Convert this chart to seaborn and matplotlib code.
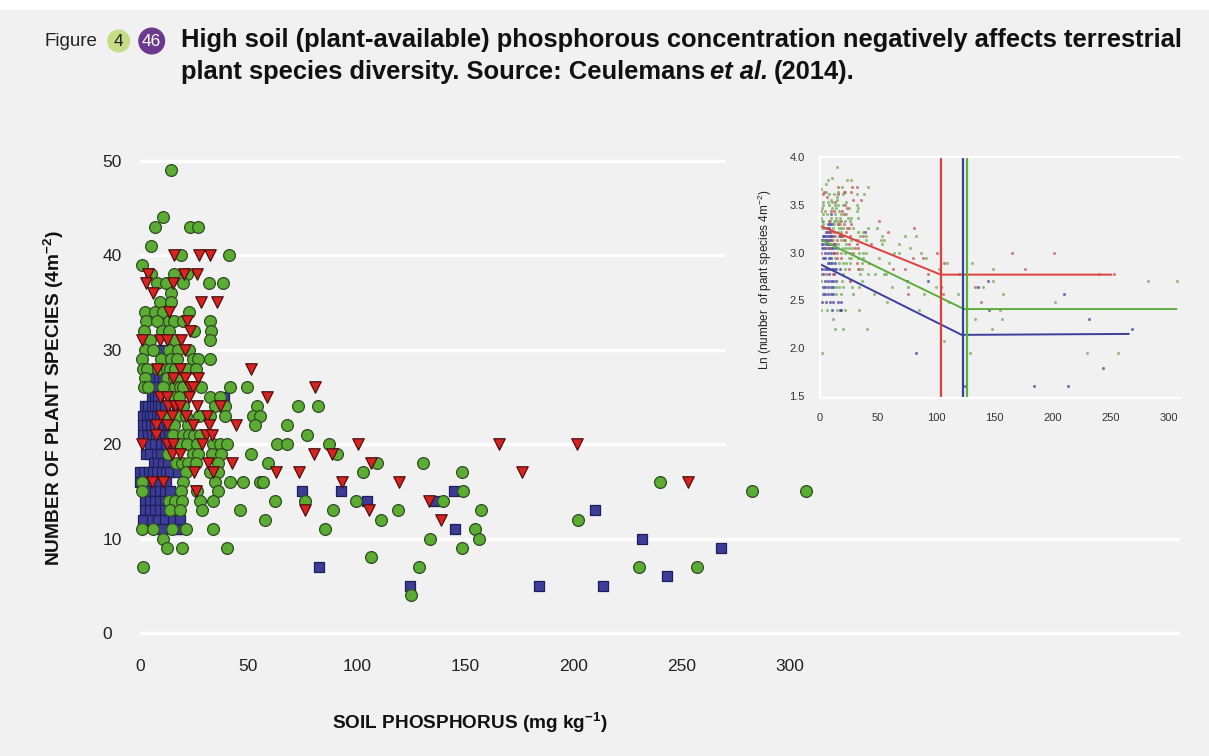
import numpy as np
import pandas as pd
import matplotlib
matplotlib.use("Agg")
import matplotlib.pyplot as plt
from matplotlib.patches import Rectangle, Ellipse
import seaborn as sns

# ---- data: (soil P mg/kg, species per 4 m2) ----
circle_x = [14.3, 10.5, 7, 23, 26.6, 5.1, 18.9, 41, 1, 5.1, 15.7, 21.8,
            8, 11.8, 19.7, 31.7, 38.2, 14.5, 9.4, 14.5, 2.5, 7, 10.5, 22.5,
            2.8, 7.7, 13.2, 15.7, 20, 32.1, 2, 10.2, 13.5, 25, 32.8,
            4.6, 16.2, 32.1, 2.5, 6.2, 13.2, 17.7, 22.5,
            0.9, 9.5, 14.2, 17.2, 24.3, 26.6, 32.3,
            1.5, 3, 8.4, 12.3, 13.8, 16.2, 21.8, 25.7,
            2.3, 12.3, 15.7, 17.2,
            1.8, 3.8, 10.8, 16.2, 18.5, 20, 28, 41.5, 49.2,
            15.4, 18.1, 32.3, 36.9,
            19.9, 34.6, 39.2, 53.8, 73, 82.3,
            11.5, 17.7, 21.3, 27, 32.3, 39.2, 52.3, 55.4,
            15.7, 22.3, 53.3, 67.7,
            15.4, 20, 22.8, 25, 27.5, 77.2,
            18.5, 21.5, 26.1, 33.8, 36.9, 40, 63.4, 67.7, 87.2,
            13, 24.6, 26.9, 33, 37.2, 51.2, 91,
            16.6, 19.4, 22.2, 25.8, 36, 59.2, 109.2, 130.7,
            21.2, 32.3, 36, 102.7, 148.8,
            0.8, 20, 34.6, 41.5, 47.7, 55.4, 56.9, 240.1,
            0.8, 18.9, 26.1, 36.1, 148.9, 282.4, 307.3,
            13.5, 16, 19.5, 27.7, 33.8, 62.3, 76.1, 99.7, 140,
            13.8, 18.5, 28.4, 46.1, 89.2, 119.2, 157.2,
            57.7, 111.2, 202.3,
            0.8, 6.2, 14.6, 21.2, 33.5, 85.2, 154.6,
            10.8, 133.8, 156.4,
            12.6, 19.5, 40.3, 148.5,
            106.6,
            1.5, 128.8, 230.1, 256.9,
            125.2]
circle_y = [49, 44, 43, 43, 43, 41, 40, 40, 39, 38, 38, 38,
            37, 37, 37, 37, 37, 36, 35, 35, 34, 34, 34, 34,
            33, 33, 33, 33, 33, 33, 32, 32, 32, 32, 32,
            31, 31, 31, 30, 30, 30, 30, 30,
            29, 29, 29, 29, 29, 29, 29,
            28, 28, 28, 28, 28, 28, 28, 28,
            27, 27, 27, 27,
            26, 26, 26, 26, 26, 26, 26, 26, 26,
            25, 25, 25, 25,
            24, 24, 24, 24, 24, 24,
            23, 23, 23, 23, 23, 23, 23, 23,
            22, 22, 22, 22,
            21, 21, 21, 21, 21, 21,
            20, 20, 20, 20, 20, 20, 20, 20, 20,
            19, 19, 19, 19, 19, 19, 19,
            18, 18, 18, 18, 18, 18, 18, 18,
            17, 17, 17, 17, 17,
            16, 16, 16, 16, 16, 16, 16, 16,
            15, 15, 15, 15, 15, 15, 15,
            14, 14, 14, 14, 14, 14, 14, 14, 14,
            13, 13, 13, 13, 13, 13, 13,
            12, 12, 12,
            11, 11, 11, 11, 11, 11, 11,
            10, 10, 10,
            9, 9, 9, 9,
            8,
            7, 7, 7, 7,
            4]

tri_x = [15.7, 27.4, 32.2, 3.8, 20.3, 26.3, 2.8, 15.2, 6.2, 28, 35.7,
         13.2, 21.8, 23.2, 0.8, 9.2, 12.3, 18.9, 20.9,
         7.7, 18.5, 51.2, 15.4, 20.8, 26.9, 23.1, 24.6, 80.8,
         9.2, 12.3, 22.8, 58.8, 13, 16.2, 18.5, 26.1, 36.9,
         9.5, 14.6, 21, 31, 7.4, 12.3, 24.6, 32, 44.3,
         7.4, 30.5, 33, 1, 12.3, 15, 28.5, 100.5, 165.7, 201.8,
         14.6, 18.5, 80.4, 88.7, 31.5, 42.3, 106.4,
         25, 33.8, 62.8, 73.4, 176.4, 5.4, 10.8, 93, 119.5, 253,
         25.8, 133.5, 76.1, 105.8, 138.8]
tri_y = [40, 40, 40, 38, 38, 38, 37, 37, 36, 35, 35,
         34, 33, 32, 31, 31, 31, 31, 30,
         28, 28, 28, 27, 27, 27, 26, 26, 26,
         25, 25, 25, 25, 24, 24, 24, 24, 24,
         23, 23, 23, 23, 22, 22, 22, 22, 22,
         21, 21, 21, 20, 20, 20, 20, 20, 20, 20,
         19, 19, 19, 19, 18, 18, 18,
         17, 17, 17, 17, 17, 16, 16, 16, 16, 16,
         15, 14, 13, 13, 12]

sq_x = [9.2, 6.9, 8.8, 10.6, 6.1, 7.6, 5.4, 6.9, 8.4, 38.8,
        2.3, 3.8, 5.4, 6.9, 8.4, 9.9, 11.5, 16.9, 19.2,
        1.5, 3, 4.6, 6.1, 7.7, 9.2,
        1.2, 3, 5, 7, 9, 11, 13,
        1.5, 3.5, 5.5, 7.5, 9.5, 11.5, 13.5,
        4.6, 7, 9.5, 12, 2.9, 4.4, 7.7, 9.5, 6.5, 8.5, 10.5, 13,
        0, 2, 4, 6, 8, 10, 12, 14, 17.5,
        0, 3, 8, 12,
        4.6, 6.9, 9.2, 11.5, 13.8, 74.6, 92.6, 144.9,
        2.3, 4.6, 6.9, 9.2, 11.5, 104.6, 135.8,
        2.3, 4.6, 6.9, 9.2, 11.5, 210.2,
        1.5, 5.4, 8.4, 11.5, 15.4, 18.5,
        10, 16.9, 18.5, 145.4,
        231.7, 268.3, 82.7, 243.3, 124.6, 184, 213.5]
sq_y = [30, 27, 27, 27, 26, 26, 25, 25, 25, 25,
        24, 24, 24, 24, 24, 24, 24, 24, 24,
        23, 23, 23, 23, 23, 23,
        22, 22, 22, 22, 22, 22, 22,
        21, 21, 21, 21, 21, 21, 21,
        20, 20, 20, 20, 19, 19, 19, 19, 18, 18, 18, 18,
        17, 17, 17, 17, 17, 17, 17, 17, 17,
        16, 16, 16, 16,
        15, 15, 15, 15, 15, 15, 15, 15,
        14, 14, 14, 14, 14, 14, 14,
        13, 13, 13, 13, 13, 13,
        12, 12, 12, 12, 12, 12,
        11, 11, 11, 11,
        10, 9, 7, 6, 5, 5, 5]

# inset: segmented regressions on ln(species)
red_fit_x = [0, 104, 251]
red_fit_y = [3.28, 2.77, 2.77]
green_fit_x = [0, 124, 307]
green_fit_y = [3.14, 2.41, 2.41]
blue_fit_x = [0, 122, 266]
blue_fit_y = [2.88, 2.14, 2.15]
breakpoints = {"red": 104.5, "blue": 123, "green": 127}

GREEN = "#5aac33"
RED = "#d8231f"
BLUE = "#3b3d97"
BG = "#f1f1f1"

circles = pd.DataFrame({"P": circle_x, "S": circle_y})
tris = pd.DataFrame({"P": tri_x, "S": tri_y})
squares = pd.DataFrame({"P": sq_x, "S": sq_y})

sns.set_theme(style="white")
plt.rcParams["font.family"] = ["Liberation Sans", "DejaVu Sans"]
plt.rcParams["mathtext.default"] = "regular"

fig = plt.figure(figsize=(12.09, 7.56), dpi=100, facecolor=BG)
W, H = 1209, 756

# white strip at top of page
fig.patches.append(Rectangle((0, 1 - 10 / H), 1, 10 / H, transform=fig.transFigure,
                             facecolor="white", edgecolor="none", zorder=0))

# ---- main axes ----
ax_h = 0.6372
ax = fig.add_axes([140 / W, 0.15648, 1040 / W, ax_h])
ax.set_facecolor(BG)
for s in ax.spines.values():
    s.set_visible(False)
ax.set_xlim(0, 480)
ax.set_ylim(-0.5, 50.5)
ax.set_yticks(range(0, 51, 10))
ax.set_xticks(range(0, 301, 50))
ax.grid(axis="y", color="white", lw=2.3)
ax.grid(axis="x", visible=False)
ax.set_axisbelow(True)
ax.tick_params(axis="both", length=0, labelsize=12.5, colors="#222222")
ax.tick_params(axis="x", pad=15)
ax.tick_params(axis="y", pad=27)
for lab in ax.get_yticklabels():
    lab.set_horizontalalignment("left")

kw = dict(ax=ax, x="P", y="S", legend=False, clip_on=False, linewidth=0.9)
sns.scatterplot(data=squares, marker="s", s=56, color=BLUE, edgecolor="#1e1f5a", **kw)
sns.scatterplot(data=circles, marker="o", s=72, color=GREEN, edgecolor="#2f4a22", **kw)
sns.scatterplot(data=tris, marker="v", s=68, color=RED, edgecolor="#4a1010", **kw)

ax.set_xlabel("SOIL PHOSPHORUS (mg kg$^{-1}$)", fontsize=13.7, fontweight="bold",
              color="#111111")
ax.xaxis.set_label_coords((470 - 140) / 1040, -(711 - 637.7) / (ax_h * H))
ax.set_ylabel("NUMBER OF PLANT SPECIES (4m$^{-2}$)", fontsize=13.8, fontweight="bold",
              color="#111111")
ax.yaxis.set_label_coords(-(140 - 66) / 1040, (637.7 - 398) / (ax_h * H))

# background panel behind the inset (hides the upper gridlines)
fig.patches.append(Rectangle((725 / W, 1 - 470 / H), 484 / W, 330 / H,
                             transform=fig.transFigure, facecolor=BG,
                             edgecolor="none", zorder=1))

# ---- inset ----
ins = fig.add_axes([820 / W, 1 - 398 / H, 360 / W, 241 / H], zorder=2)
ins.set_facecolor(BG)
ins.set_xlim(0, 310)
ins.set_ylim(1.48, 4.0)
for name, s in ins.spines.items():
    s.set_color("white")
    s.set_linewidth(1.6)
ins.spines["right"].set_visible(False)
ins.set_xticks(range(0, 301, 50))
ins.set_yticks([1.5, 2.0, 2.5, 3.0, 3.5, 4.0])
ins.set_yticklabels([f"{v:.1f}" for v in [1.5, 2.0, 2.5, 3.0, 3.5, 4.0]])
ins.tick_params(axis="both", length=0, labelsize=8, colors="#333333")
ins.tick_params(axis="x", pad=11)
ins.tick_params(axis="y", pad=11)

ikw = dict(ax=ins, legend=False, s=5, linewidth=0, alpha=0.7)
sns.scatterplot(x=squares["P"], y=np.log(squares["S"]), color=BLUE, **ikw)
sns.scatterplot(x=circles["P"], y=np.log(circles["S"]), color="#6aa84f", **ikw)
sns.scatterplot(x=tris["P"], y=np.log(tris["S"]), color="#c0504d", **ikw)

sns.lineplot(x=red_fit_x, y=red_fit_y, ax=ins, color="#e0403c", lw=1.4)
sns.lineplot(x=green_fit_x, y=green_fit_y, ax=ins, color="#5cae3a", lw=1.4)
sns.lineplot(x=blue_fit_x, y=blue_fit_y, ax=ins, color="#3c3f9a", lw=1.4)
ins.axvline(breakpoints["red"], color="#e0403c", lw=1.6)
ins.axvline(breakpoints["blue"], color="#3c3f9a", lw=1.6)
ins.axvline(breakpoints["green"], color="#5cae3a", lw=1.6)
ins.set_xlabel("")
ins.set_ylabel("Ln (number  of pant species 4m$^{-2}$)", fontsize=8.5, color="#222222")
ins.yaxis.set_label_coords(-(820 - 774) / 360, (398 - 280) / 241)

# ---- heading ----
fig.text(45 / W, 1 - 41 / H, "Figure", fontsize=13.5, va="center", ha="left",
         color="#222222")
fig.patches.append(Ellipse((118.7 / W, 1 - 41 / H), 23 / W, 23 / H,
                           transform=fig.transFigure, fc="#c6dd86", ec="none"))
fig.patches.append(Ellipse((151.7 / W, 1 - 41 / H), 27 / W, 27 / H,
                           transform=fig.transFigure, fc="#6b3a8e", ec="none"))
fig.text(118.7 / W, 1 - 41 / H, "4", fontsize=12.5, va="center", ha="center",
         color="#222222")
fig.text(151.7 / W, 1 - 41 / H, "46", fontsize=12.5, va="center", ha="center",
         color="white")

# title: fit first line to its width in the reference
tkw = dict(fontweight="bold", va="center", ha="left", color="#111111")
line1 = fig.text(181 / W, 1 - 40 / H,
                 "High soil (plant-available) phosphorous concentration negatively affects terrestrial",
                 fontsize=15, **tkw)
fig.canvas.draw()
r = fig.canvas.get_renderer()
fs = 15 * 1006 / line1.get_window_extent(r).width
line1.set_fontsize(fs)
t1 = fig.text(181 / W, 1 - 72 / H, "plant species diversity. Source: Ceulemans",
              fontsize=fs, **tkw)
x1 = t1.get_window_extent(r).x1 + 0.28 * fs
t2 = fig.text(x1 / W, 1 - 72 / H, "et al.", fontstyle="italic", fontsize=fs, **tkw)
x2 = t2.get_window_extent(r).x1 + 0.28 * fs
fig.text(x2 / W, 1 - 72 / H, "(2014).", fontsize=fs, **tkw)

fig.savefig("out.png", dpi=100, facecolor=fig.get_facecolor())
